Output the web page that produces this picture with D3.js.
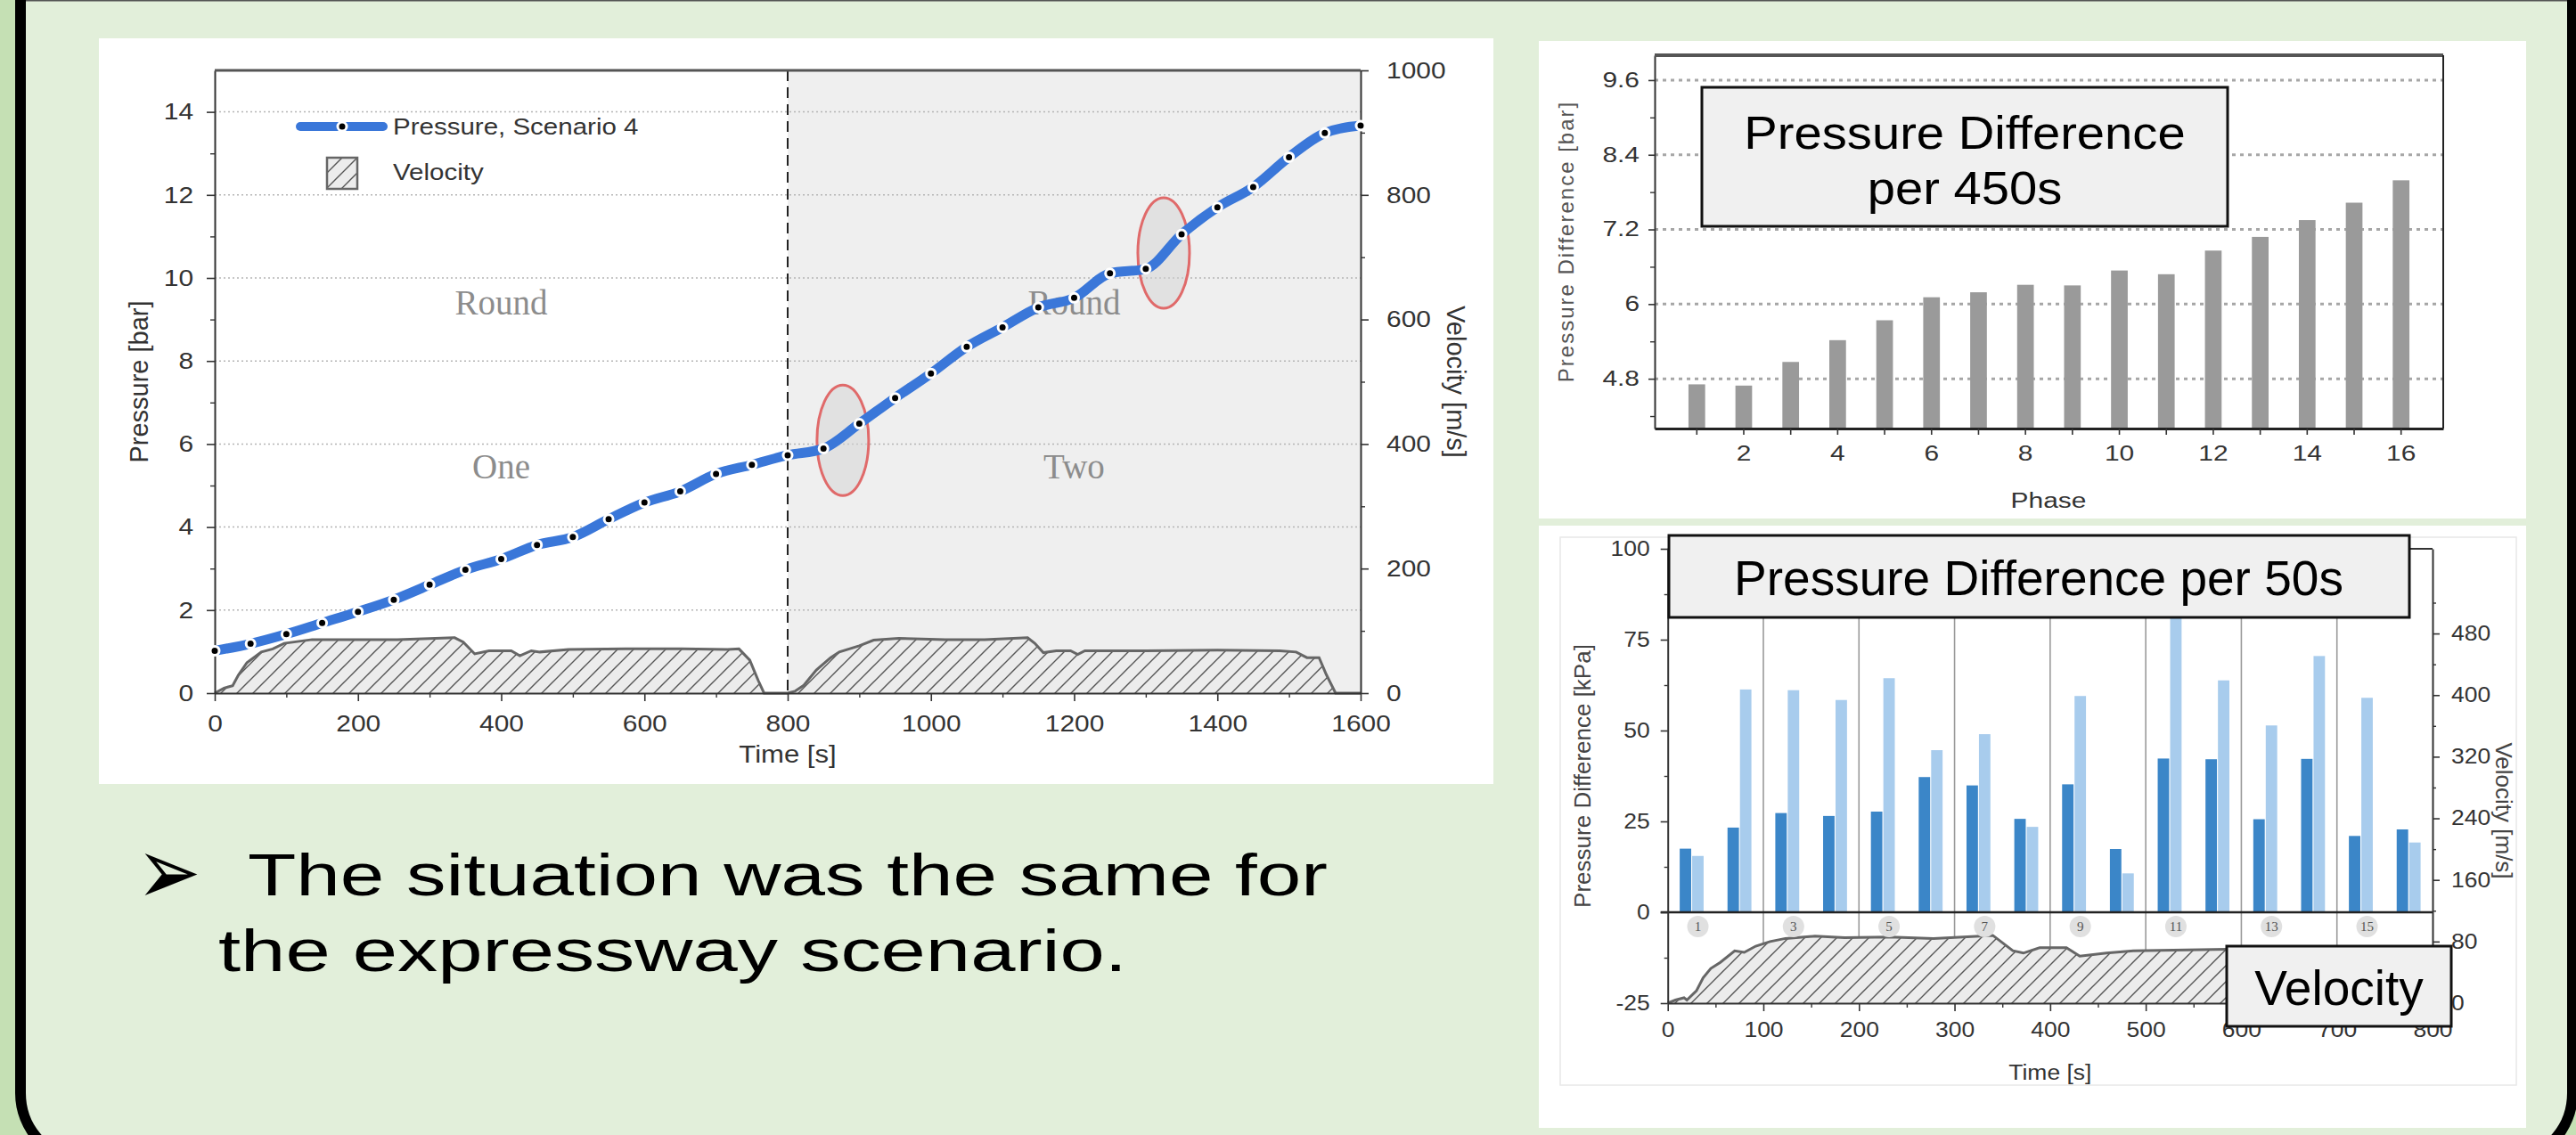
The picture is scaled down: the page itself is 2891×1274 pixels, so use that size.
<!DOCTYPE html>
<html>
<head>
<meta charset="utf-8">
<script src="https://cdn.jsdelivr.net/npm/d3@7"></script>
<style>
  body { margin: 0; background: #c5e0b4; }
  svg { display: block; }
</style>
</head>
<body>
<svg id="slide" width="2891" height="1274"></svg>
<script>
// ---- Data ----
// Main chart: pressure every 50 s
const pressureTime = [0, 50, 100, 150, 200, 250, 300, 350, 400, 450, 500, 550, 600, 650, 700, 750, 800,
                      850, 900, 950, 1000, 1050, 1100, 1150, 1200, 1250, 1300, 1350, 1400, 1450, 1500, 1550, 1600];
const pressureBar = [1.02, 1.19, 1.42, 1.69, 1.96, 2.25, 2.61, 2.97, 3.23, 3.57, 3.76, 4.19, 4.59, 4.86, 5.28, 5.50, 5.73,
                     5.89, 6.49, 7.11, 7.70, 8.34, 8.81, 9.29, 9.52, 10.11, 10.22, 11.05, 11.70, 12.19, 12.91, 13.49, 13.67];
// Main chart: velocity trace [time s, velocity m/s]
const velocityTrace = [
  [0, 0], [13, 8], [25, 12], [33, 29], [45, 49], [65, 66], [81, 71], [97, 80], [136, 86], [255, 86], [335, 89],
  [347, 82], [363, 63], [383, 68], [414, 68], [426, 60], [442, 68], [454, 66], [494, 70], [573, 71], [652, 71],
  [716, 70], [732, 71], [747, 53], [759, 20], [767, 0], [800, 0],
  [810, 3], [822, 12], [840, 37], [860, 57], [872, 66], [900, 76], [920, 85], [955, 88], [1020, 86], [1075, 86],
  [1135, 89], [1145, 80], [1157, 65], [1175, 68], [1195, 68], [1205, 62], [1215, 68], [1300, 68], [1400, 69],
  [1487, 68], [1510, 66], [1525, 57], [1542, 57], [1552, 30], [1565, 0], [1600, 0]
];
// Round annotations
const roundNotes = [
  { t: 400, p: 9.42, label: "Round" }, { t: 400, p: 5.46, label: "One" },
  { t: 1200, p: 9.42, label: "Round" }, { t: 1200, p: 5.46, label: "Two" }
];
// Highlight ellipses [time s, pressure bar]
const highlights = [[877, 6.09], [1325, 10.6]];

// Top right: pressure difference per 450 s
const phases = [1, 2, 3, 4, 5, 6, 7, 8, 9, 10, 11, 12, 13, 14, 15, 16];
const diff450 = [4.71, 4.69, 5.07, 5.42, 5.74, 6.11, 6.19, 6.31, 6.30, 6.54, 6.48, 6.86, 7.08, 7.35, 7.63, 7.99];
const diff450Ticks = [4.8, 6, 7.2, 8.4, 9.6];

// Bottom right: pressure difference per 50 s (kPa), two series
const diff50Dark = [17.5, 23.3, 27.3, 26.5, 27.7, 37.2, 34.9, 25.7, 35.2, 17.4, 42.3, 42.1, 25.6, 42.2, 21.0, 22.8];
const diff50Light = [15.5, 61.3, 61.1, 58.4, 64.4, 44.6, 49.0, 23.5, 59.5, 10.7, 84.0, 63.8, 51.4, 70.5, 59.0, 19.2];
const roundVelocity = [
  [0, 0], [8, 4], [17, 7], [20, 4], [30, 16], [37, 33], [45, 45], [55, 53], [70, 68], [80, 66], [92, 74],
  [107, 80], [123, 84], [154, 87], [185, 85], [232, 86], [278, 84], [340, 88], [361, 68], [372, 65], [389, 72],
  [417, 72], [431, 61], [459, 65], [487, 68], [585, 70], [650, 70], [700, 68], [718, 62], [739, 42], [760, 16],
  [775, 3], [800, 0]
];

const FONT = "'Liberation Sans', Arial, sans-serif";
const SERIF = "'Liberation Serif', 'Times New Roman', serif";
const plain = d => String(d);

const svg = d3.select("#slide");
const defs = svg.append("defs");

function hatch(id, size) {
  const p = defs.append("pattern").attr("id", id).attr("patternUnits", "userSpaceOnUse")
      .attr("width", size).attr("height", size);
  p.append("rect").attr("width", size).attr("height", size).attr("fill", "#ececec");
  p.append("path")
      .attr("d", `M0,${size} L${size},0 M${-size / 2},${size / 2} L${size / 2},${-size / 2} M${size / 2},${size * 1.5} L${size * 1.5},${size / 2}`)
      .attr("stroke", "#555").attr("stroke-width", 1.4);
}
hatch("hatch", 18);
hatch("hatchSmall", 17);

// widen text horizontally (the slide picture is stretched)
function stretch(sel, k) {
  sel.each(function () {
    const len = this.getComputedTextLength();
    d3.select(this).attr("textLength", len * k).attr("lengthAdjust", "spacingAndGlyphs");
  });
}

function styleAxis(g, size, k) {
  g.selectAll("path.domain").attr("stroke", "#333").attr("stroke-width", 2);
  g.selectAll(".tick line").attr("stroke", "#333").attr("stroke-width", 1.6);
  g.selectAll(".tick text").attr("font-size", size).attr("fill", "#333").attr("font-family", FONT);
  if (k) stretch(g.selectAll(".tick text"), k);
}

function minorAxis(axis, transform) {
  const g = svg.append("g").attr("transform", transform).call(axis.tickFormat(""));
  g.select("path.domain").remove();
  g.selectAll(".tick line").attr("stroke", "#333").attr("stroke-width", 1.4);
}

// ---- Slide frame ----
svg.append("rect").attr("x", 23).attr("y", -120).attr("width", 2864).attr("height", 1424).attr("rx", 77)
    .attr("fill", "#e2efda").attr("stroke", "#000").attr("stroke-width", 12);
svg.append("line").attr("x1", 29).attr("x2", 2881).attr("y1", 0.5).attr("y2", 0.5)
    .attr("stroke", "#555").attr("stroke-width", 2);

// =============== Main chart ===============
svg.append("rect").attr("x", 111).attr("y", 43).attr("width", 1565).attr("height", 837).attr("fill", "#fff");

const x = d3.scaleLinear().domain([0, 1600]).range([241, 1527]);
const y = d3.scaleLinear().domain([0, 15]).range([778, 79]);
const yv = d3.scaleLinear().domain([0, 1000]).range([778, 79]);

// second round shading
svg.append("rect").attr("x", x(800)).attr("y", y(15)).attr("width", x(1600) - x(800)).attr("height", y(0) - y(15))
    .attr("fill", "#efefef");

// grid
svg.append("g").selectAll("line").data(d3.range(2, 15, 2)).join("line")
    .attr("x1", x(0)).attr("x2", x(1600)).attr("y1", d => y(d)).attr("y2", d => y(d))
    .attr("stroke", "#b5b5b5").attr("stroke-width", 1.5).attr("stroke-dasharray", "2,3");

// round labels
svg.append("g").selectAll("text").data(roundNotes).join("text")
    .attr("x", d => x(d.t)).attr("y", d => y(d.p))
    .attr("text-anchor", "middle").attr("dominant-baseline", "central")
    .attr("font-family", SERIF).attr("font-size", 39).attr("fill", "#8c8c8c")
    .text(d => d.label);

// dashed separator
svg.append("line").attr("x1", x(800)).attr("x2", x(800)).attr("y1", y(15)).attr("y2", y(0))
    .attr("stroke", "#222").attr("stroke-width", 2).attr("stroke-dasharray", "12,7");

// velocity area
const vArea = d3.area().x(d => x(d[0])).y0(yv(0)).y1(d => yv(d[1]));
svg.append("path").datum(velocityTrace).attr("d", vArea).attr("fill", "url(#hatch)");
svg.append("path").datum(velocityTrace).attr("d", d3.line().x(d => x(d[0])).y(d => yv(d[1])))
    .attr("fill", "none").attr("stroke", "#666").attr("stroke-width", 3);

// axes
const axL = svg.append("g").attr("transform", `translate(${x(0)},0)`)
    .call(d3.axisLeft(y).tickValues(d3.range(0, 15, 2)).tickSize(9).tickSizeOuter(0).tickPadding(15).tickFormat(plain));
styleAxis(axL, 26, 1.15);
minorAxis(d3.axisLeft(y).tickValues(d3.range(1, 15, 2)).tickSize(5), `translate(${x(0)},0)`);

const axB = svg.append("g").attr("transform", `translate(0,${y(0)})`)
    .call(d3.axisBottom(x).tickValues(d3.range(0, 1601, 200)).tickSize(9).tickSizeOuter(0).tickPadding(16).tickFormat(plain));
styleAxis(axB, 26, 1.15);
minorAxis(d3.axisBottom(x).tickValues(d3.range(100, 1600, 200)).tickSize(5), `translate(0,${y(0)})`);

const axR = svg.append("g").attr("transform", `translate(${x(1600)},0)`)
    .call(d3.axisRight(yv).tickValues(d3.range(0, 1001, 200)).tickSize(9).tickSizeOuter(0).tickPadding(20).tickFormat(plain));
styleAxis(axR, 26, 1.15);
minorAxis(d3.axisRight(yv).tickValues(d3.range(100, 1000, 200)).tickSize(5), `translate(${x(1600)},0)`);

svg.append("line").attr("x1", x(0)).attr("x2", x(1600)).attr("y1", y(15)).attr("y2", y(15))
    .attr("stroke", "#555").attr("stroke-width", 3);

// axis titles
const tTime = svg.append("text").attr("x", x(800)).attr("y", 856).attr("text-anchor", "middle")
    .attr("font-family", FONT).attr("font-size", 27).attr("fill", "#333").text("Time [s]");
stretch(tTime, 1.15);
svg.append("text").attr("transform", `translate(156,${(y(0) + y(15)) / 2}) rotate(-90)`)
    .attr("text-anchor", "middle").attr("dominant-baseline", "central")
    .attr("font-family", FONT).attr("font-size", 29).attr("fill", "#333").text("Pressure [bar]");
svg.append("text").attr("transform", `translate(1634,${(y(0) + y(15)) / 2}) rotate(90)`)
    .attr("text-anchor", "middle").attr("dominant-baseline", "central")
    .attr("font-family", FONT).attr("font-size", 29).attr("fill", "#333").text("Velocity [m/s]");

// highlight ellipses
svg.append("g").selectAll("ellipse").data(highlights).join("ellipse")
    .attr("cx", d => x(d[0])).attr("cy", d => y(d[1])).attr("rx", 29).attr("ry", 62)
    .attr("fill", "#d4d4d4").attr("fill-opacity", 0.5)
    .attr("stroke", "#e06a6a").attr("stroke-width", 3);

// pressure line
const pts = pressureTime.map((t, i) => ({ t, p: pressureBar[i] }));
svg.append("path").datum(pts)
    .attr("d", d3.line().x(d => x(d.t)).y(d => y(d.p)).curve(d3.curveMonotoneX))
    .attr("fill", "none").attr("stroke", "#3a77d9").attr("stroke-width", 11).attr("stroke-linecap", "round");
svg.append("g").selectAll("circle").data(pts).join("circle")
    .attr("cx", d => x(d.t)).attr("cy", d => y(d.p)).attr("r", 5)
    .attr("fill", "#000").attr("stroke", "#fff").attr("stroke-width", 3);

// legend
const lg = svg.append("g");
lg.append("line").attr("x1", 337).attr("x2", 430).attr("y1", 142).attr("y2", 142)
    .attr("stroke", "#3a77d9").attr("stroke-width", 10).attr("stroke-linecap", "round");
lg.append("circle").attr("cx", 384).attr("cy", 142).attr("r", 5).attr("fill", "#000")
    .attr("stroke", "#fff").attr("stroke-width", 3);
lg.append("rect").attr("x", 367).attr("y", 177).attr("width", 34).attr("height", 35)
    .attr("fill", "url(#hatchSmall)").attr("stroke", "#666").attr("stroke-width", 2.5);
const lt1 = lg.append("text").attr("x", 441).attr("y", 151).attr("font-family", FONT).attr("font-size", 25)
    .attr("fill", "#333").text("Pressure, Scenario 4");
const lt2 = lg.append("text").attr("x", 441).attr("y", 202).attr("font-family", FONT).attr("font-size", 25)
    .attr("fill", "#333").text("Velocity");
stretch(lt1, 1.18);
stretch(lt2, 1.18);

// =============== Top right chart ===============
svg.append("rect").attr("x", 1727).attr("y", 46).attr("width", 1108).attr("height", 536).attr("fill", "#fff");

const xb = d3.scaleBand().domain(phases).range([1857, 2742]).paddingInner(0.645).paddingOuter(0.72);
const yb = d3.scaleLinear().domain([4, 10]).range([481, 62]);

svg.append("g").selectAll("line").data(diff450Ticks).join("line")
    .attr("x1", 1857).attr("x2", 2742).attr("y1", d => yb(d)).attr("y2", d => yb(d))
    .attr("stroke", "#a6a6a6").attr("stroke-width", 3).attr("stroke-dasharray", "4,5");

svg.append("g").selectAll("rect").data(phases).join("rect")
    .attr("x", d => xb(d)).attr("width", xb.bandwidth())
    .attr("y", (d, i) => yb(diff450[i])).attr("height", (d, i) => yb(4) - yb(diff450[i]))
    .attr("fill", "#9a9a9a");

const bL = svg.append("g").attr("transform", "translate(1857,0)")
    .call(d3.axisLeft(yb).tickValues(diff450Ticks).tickSize(7).tickSizeOuter(0).tickPadding(10).tickFormat(plain));
styleAxis(bL, 23, 1.3);
minorAxis(d3.axisLeft(yb).tickValues([4.2, 5.4, 6.6, 7.8, 9.0]).tickSize(5), "translate(1857,0)");

const bB = svg.append("g").attr("transform", "translate(0,481)")
    .call(d3.axisBottom(xb).tickSize(7).tickSizeOuter(0).tickPadding(13).tickFormat(d => d % 2 === 0 ? d : ""));
styleAxis(bB, 23, 1.3);
bB.select("path.domain").attr("stroke-width", 3).attr("stroke", "#222");

svg.append("line").attr("x1", 1857).attr("x2", 2742).attr("y1", 62).attr("y2", 62)
    .attr("stroke", "#555").attr("stroke-width", 4);
svg.append("line").attr("x1", 2742).attr("x2", 2742).attr("y1", 62).attr("y2", 481)
    .attr("stroke", "#222").attr("stroke-width", 2);

const phaseT = svg.append("text").attr("x", 2299).attr("y", 570).attr("text-anchor", "middle")
    .attr("font-family", FONT).attr("font-size", 23).attr("fill", "#333").text("Phase");
stretch(phaseT, 1.3);
svg.append("text").attr("transform", "translate(1757,271) rotate(-90)")
    .attr("text-anchor", "middle").attr("dominant-baseline", "central")
    .attr("font-family", FONT).attr("font-size", 24).attr("letter-spacing", 2).attr("fill", "#555")
    .text("Pressure Difference [bar]");

svg.append("rect").attr("x", 1910).attr("y", 98).attr("width", 590).attr("height", 156)
    .attr("fill", "#f0f0f0").attr("stroke", "#111").attr("stroke-width", 3);
const h1 = svg.append("text").attr("x", 2205).attr("y", 167).attr("text-anchor", "middle")
    .attr("font-family", FONT).attr("font-size", 52).attr("fill", "#000").text("Pressure Difference");
const h2 = svg.append("text").attr("x", 2205).attr("y", 229).attr("text-anchor", "middle")
    .attr("font-family", FONT).attr("font-size", 52).attr("fill", "#000").text("per 450s");
stretch(h1, 1.08);
stretch(h2, 1.08);

// =============== Bottom right chart ===============
svg.append("rect").attr("x", 1727).attr("y", 590).attr("width", 1108).attr("height", 676).attr("fill", "#fff");
svg.append("rect").attr("x", 1751).attr("y", 603).attr("width", 1073).attr("height", 615)
    .attr("fill", "none").attr("stroke", "#e8e8e8").attr("stroke-width", 1.5);

const xt = d3.scaleLinear().domain([0, 800]).range([1871.7, 2730]);
const yk = d3.scaleLinear().domain([-25, 100]).range([1126, 616]);
const yv2 = d3.scaleLinear().domain([0, 590]).range([1126, 616]);
const xPhase = d3.scaleBand().domain(phases).range([xt(0), xt(800)]).paddingInner(0.5).paddingOuter(0.25);
const xSeries = d3.scaleBand().domain(["dark", "light"]).range([0, xPhase.bandwidth()]).paddingInner(0.08);

// phase separators
svg.append("g").selectAll("line").data(d3.range(100, 800, 100)).join("line")
    .attr("x1", d => xt(d)).attr("x2", d => xt(d)).attr("y1", yk(100)).attr("y2", yk(-25))
    .attr("stroke", "#9a9a9a").attr("stroke-width", 1.6);

// velocity
const vArea2 = d3.area().x(d => xt(d[0])).y0(yv2(0)).y1(d => yv2(d[1]));
svg.append("path").datum(roundVelocity).attr("d", vArea2).attr("fill", "url(#hatch)");
svg.append("path").datum(roundVelocity).attr("d", d3.line().x(d => xt(d[0])).y(d => yv2(d[1])))
    .attr("fill", "none").attr("stroke", "#666").attr("stroke-width", 3);

// bars
const barG = svg.append("g");
barG.selectAll("rect.dark").data(phases).join("rect").attr("class", "dark")
    .attr("x", d => xPhase(d) + xSeries("dark")).attr("width", xSeries.bandwidth())
    .attr("y", (d, i) => yk(diff50Dark[i])).attr("height", (d, i) => yk(0) - yk(diff50Dark[i]))
    .attr("fill", "#3b86c8");
barG.selectAll("rect.light").data(phases).join("rect").attr("class", "light")
    .attr("x", d => xPhase(d) + xSeries("light")).attr("width", xSeries.bandwidth())
    .attr("y", (d, i) => yk(diff50Light[i])).attr("height", (d, i) => yk(0) - yk(diff50Light[i]))
    .attr("fill", "#a8cced");

// zero line
svg.append("line").attr("x1", xt(0) - 8).attr("x2", xt(800)).attr("y1", yk(0)).attr("y2", yk(0))
    .attr("stroke", "#222").attr("stroke-width", 2.5);

// phase numbers
const oddPhases = phases.filter(p => p % 2 === 1);
const pn = svg.append("g").selectAll("g").data(oddPhases).join("g")
    .attr("transform", d => `translate(${xPhase(d) + xSeries("light") + xSeries.bandwidth() / 2},${yk(0) + 16})`);
pn.append("circle").attr("r", 12).attr("fill", "#e0e0e0");
pn.append("text").attr("text-anchor", "middle").attr("dominant-baseline", "central")
    .attr("font-family", SERIF).attr("font-size", 15).attr("fill", "#555").text(d => d);

// axes
const cL = svg.append("g").attr("transform", `translate(${xt(0)},0)`)
    .call(d3.axisLeft(yk).tickValues([-25, 0, 25, 50, 75, 100]).tickSize(8).tickSizeOuter(0).tickPadding(12).tickFormat(plain));
styleAxis(cL, 23, 1.15);
minorAxis(d3.axisLeft(yk).tickValues([-12.5, 12.5, 37.5, 62.5, 87.5]).tickSize(4), `translate(${xt(0)},0)`);

const cB = svg.append("g").attr("transform", `translate(0,${yk(-25)})`)
    .call(d3.axisBottom(xt).tickValues(d3.range(0, 801, 100)).tickSize(9).tickSizeOuter(0).tickPadding(13).tickFormat(plain));
styleAxis(cB, 23, 1.15);
minorAxis(d3.axisBottom(xt).tickValues(d3.range(50, 800, 100)).tickSize(5), `translate(0,${yk(-25)})`);

const cR = svg.append("g").attr("transform", `translate(${xt(800)},0)`)
    .call(d3.axisRight(yv2).tickValues(d3.range(0, 481, 80)).tickSize(8).tickSizeOuter(0).tickPadding(13).tickFormat(plain));
styleAxis(cR, 23, 1.15);
minorAxis(d3.axisRight(yv2).tickValues(d3.range(40, 521, 80)).tickSize(4), `translate(${xt(800)},0)`);

svg.append("line").attr("x1", xt(0)).attr("x2", xt(800)).attr("y1", yk(100)).attr("y2", yk(100))
    .attr("stroke", "#333").attr("stroke-width", 2);

const timeT2 = svg.append("text").attr("x", xt(400)).attr("y", 1212).attr("text-anchor", "middle")
    .attr("font-family", FONT).attr("font-size", 23).attr("fill", "#333").text("Time [s]");
stretch(timeT2, 1.15);
svg.append("text").attr("transform", `translate(1776,${(yk(-25) + yk(100)) / 2}) rotate(-90)`)
    .attr("text-anchor", "middle").attr("dominant-baseline", "central")
    .attr("font-family", FONT).attr("font-size", 26).attr("fill", "#444").text("Pressure Difference [kPa]");
svg.append("text").attr("transform", "translate(2810,910) rotate(90)")
    .attr("text-anchor", "middle").attr("dominant-baseline", "central")
    .attr("font-family", FONT).attr("font-size", 26).attr("fill", "#444").text("Velocity [m/s]");

// title boxes
svg.append("rect").attr("x", 1873).attr("y", 601).attr("width", 831).attr("height", 92)
    .attr("fill", "#f0f0f0").attr("stroke", "#111").attr("stroke-width", 3);
svg.append("text").attr("x", 2288).attr("y", 668).attr("text-anchor", "middle")
    .attr("font-family", FONT).attr("font-size", 55).attr("fill", "#000").text("Pressure Difference per 50s");

svg.append("rect").attr("x", 2499).attr("y", 1062).attr("width", 252).attr("height", 90)
    .attr("fill", "#f0f0f0").attr("stroke", "#111").attr("stroke-width", 3);
svg.append("text").attr("x", 2625).attr("y", 1128).attr("text-anchor", "middle")
    .attr("font-family", FONT).attr("font-size", 55).attr("fill", "#000").text("Velocity");

// =============== Bullet text ===============
svg.append("text").attr("transform", "translate(153,1015) scale(0.825,1.02)")
    .attr("font-family", "'DejaVu Sans', sans-serif").attr("font-size", 105).attr("fill", "#000").text("\u27A2");
const b1 = svg.append("text").attr("x", 278).attr("y", 1005)
    .attr("font-family", FONT).attr("font-size", 66).attr("fill", "#000").text("The situation was the same for");
const b2 = svg.append("text").attr("x", 245).attr("y", 1090)
    .attr("font-family", FONT).attr("font-size", 66).attr("fill", "#000").text("the expressway scenario.");
b1.attr("textLength", 1212).attr("lengthAdjust", "spacingAndGlyphs");
b2.attr("textLength", 1020).attr("lengthAdjust", "spacingAndGlyphs");
</script>
</body>
</html>
